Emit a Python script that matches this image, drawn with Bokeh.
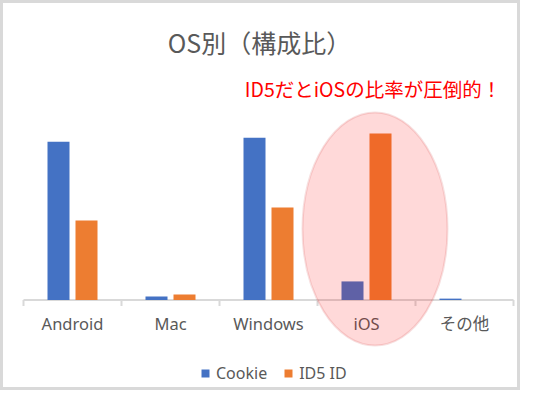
from bokeh.plotting import figure
from bokeh.models import ColumnDataSource, Range1d, Legend, LegendItem, Label
from bokeh.transform import dodge
from bokeh.core.properties import value
from bokeh.embed import file_html
from bokeh.resources import INLINE

# ---- data ----
categories = ["Android", "Mac", "Windows", "iOS", "その他"]
cookie = [0.460, 0.010, 0.472, 0.054, 0.004]
id5 = [0.231, 0.016, 0.269, 0.484, 0.000]
series_names = ["Cookie", "ID5 ID"]
title_text = "OS別（構成比）"
note_text = "ID5だとiOSの比率が圧倒的！"
highlight = "iOS"

# ---- layout constants ----
W, H = 520, 390
PX = 344.0          # pixels per unit (100%)
CAT_W = 98.0        # pixels per category
LEFT = 23.0         # px from figure edge to first category boundary
BASE = 299.5        # baseline, px from top of figure
GRAY = "#595959"
AXIS = "#d9d9d9"
LATIN = "Noto Sans, Noto Sans CJK JP"
CJK = "Noto Sans CJK JP"

def ypx(px_from_top):
    return (BASE - px_from_top) / PX

def xpx(px_from_left):
    return (px_from_left - LEFT) / CAT_W

p = figure(width=W, height=H, output_backend="svg", toolbar_location=None,
           x_range=Range1d(xpx(0), xpx(W)),
           y_range=Range1d(ypx(H), ypx(0)),
           x_axis_location=None, y_axis_location=None,
           min_border=0, min_border_left=0, min_border_right=0,
           min_border_top=0, min_border_bottom=0)
p.grid.visible = False
p.outline_line_color = AXIS
p.outline_line_width = 5
p.background_fill_color = "white"
p.border_fill_color = "white"

n = len(categories)
centers = [i + 0.5 for i in range(n)]
src = ColumnDataSource(dict(cat=categories, xc=centers, cookie=cookie, id5=id5))

# axis baseline and boundary ticks
p.segment(x0=[0], y0=[0], x1=[n], y1=[0], line_color=AXIS, line_width=2)
ticks = list(range(n + 1))
p.segment(x0=ticks, y0=[0] * (n + 1), x1=ticks, y1=[-6 / PX] * (n + 1),
          line_color=AXIS, line_width=2)

off = 14 / CAT_W
bw = 22 / CAT_W
r1 = p.vbar(x=dodge("xc", -off), top="cookie", width=bw,
            source=src, fill_color="#4472c4", line_color=None)
r2 = p.vbar(x=dodge("xc", off), top="id5", width=bw,
            source=src, fill_color="#ed7d31", line_color=None)

# category labels
p.text(x="xc", y=ypx(322.5), text="cat", source=src, text_align="center",
       text_baseline="middle", text_color=GRAY, text_font_size="16.5px",
       text_font=value(LATIN))

# highlight ellipse
hi = categories.index(highlight)
p.ellipse(x=[centers[hi] + 8.5 / CAT_W], y=[ypx(228.5)], width=145, height=233,
          width_units="screen", height_units="screen",
          fill_color="red", fill_alpha=0.15, line_color="#c00000",
          line_alpha=0.12, line_width=2)

# title
p.add_layout(Label(x=xpx(259), y=ypx(41), text=title_text, text_align="center",
                   text_baseline="middle", text_color=GRAY, text_font_size="25px",
                   text_font=CJK))
# note
p.add_layout(Label(x=centers[hi], x_offset=6.5, y=ypx(88), text=note_text,
                   text_align="center", text_baseline="middle",
                   text_color="#ff0000", text_font_size="19.5px", text_font=CJK))

legend = Legend(items=[LegendItem(label=series_names[0], renderers=[r1]),
                       LegendItem(label=series_names[1], renderers=[r2])],
                orientation="horizontal", location=(200, 6),
                glyph_width=10, glyph_height=10, label_standoff=6, spacing=16,
                padding=0, margin=0, border_line_color=None,
                background_fill_alpha=0, label_text_font=LATIN,
                label_text_font_size="16px", label_text_color=GRAY,
                label_height=20)
p.add_layout(legend)

open("out.html", "w").write(file_html(p, INLINE))
